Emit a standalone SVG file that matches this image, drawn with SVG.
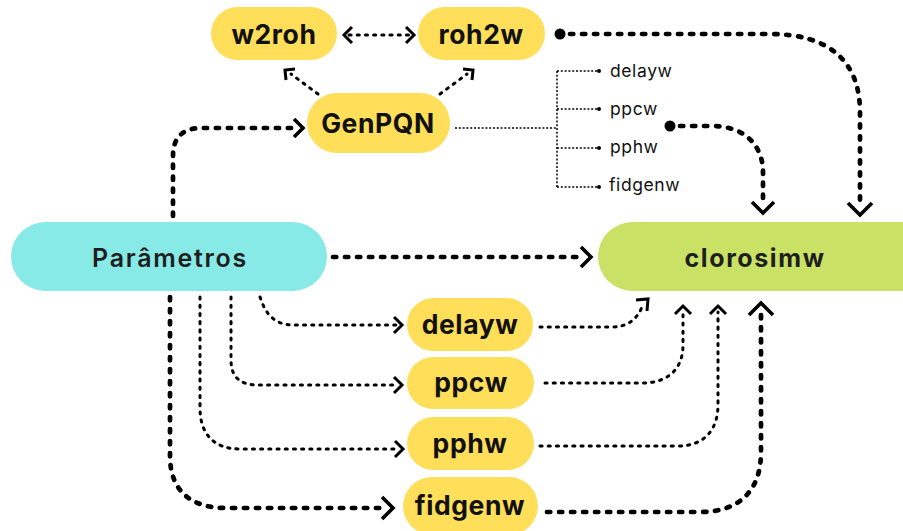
<svg xmlns="http://www.w3.org/2000/svg" width="903" height="531" viewBox="0 0 903 531">
  <style>
    .pill-y { fill: #FFDE59; }
    .pill-c { fill: #88EAE6; }
    .pill-g { fill: #C9E265; }
    .lbl { font-family: Inter, "Noto Sans", sans-serif; font-weight: 700; fill: #111; text-anchor: middle; font-size: 26.5px; letter-spacing: 0.6px; }
    .lbl-main { font-family: Inter, "Noto Sans", sans-serif; font-weight: 600; fill: #1e1e1e; text-anchor: middle; letter-spacing: 1.7px; font-size: 25px; }
    .small { font-family: Inter, "Noto Sans", sans-serif; font-weight: 400; fill: #111; font-size: 17.5px; letter-spacing: 0.6px; }
    .thin { fill: none; stroke: #000; stroke-width: 3; stroke-linecap: round; stroke-dasharray: 2.1 6.1; }
    .thick { fill: none; stroke: #000; stroke-width: 4.7; stroke-linecap: round; stroke-dasharray: 3.3 8.7; }
    .fine { fill: none; stroke: #000; stroke-width: 1.5; stroke-dasharray: 2 1.8; }
    .head { fill: none; stroke: #000; stroke-width: 3; stroke-linejoin: miter; stroke-linecap: butt; }
    .head-b { fill: none; stroke: #000; stroke-width: 3.6; stroke-linejoin: miter; stroke-linecap: butt; }
  </style>

  <rect width="903" height="531" fill="#fff"/>

  <!-- connectors -->
  <g id="connectors">
    <!-- w2roh <-> roh2w -->
    <path class="thin" d="M349,35 H409"/>
    <polyline class="head" points="352,27 344,35 352,43"/>
    <polyline class="head" points="406,27 414,35 406,43"/>

    <!-- GenPQN -> w2roh / roh2w -->
    <path class="thin" d="M318,94 L291,74"/>
    <polyline class="head" points="286,80 285,70 295,69"/>
    <path class="thin" d="M440,94 L467,74"/>
    <polyline class="head" points="463,69 473,70 472,80"/>

    <!-- Parametros -> GenPQN -->
    <path class="thick" d="M173,216 V156 C173,138 182,128 202,128 H297"/>
    <polyline class="head-b" points="294,119 303,128 294,137"/>

    <!-- roh2w -> clorosimw -->
    <circle cx="560" cy="34" r="5.5" fill="#000"/>
    <path class="thick" d="M570,34 H770 C830,34 860,62 860,112 V204"/>
    <polyline class="head-b" points="848,203 860,215 872,203"/>

    <!-- GenPQN output tree -->
    <path class="fine" d="M455,128 H557"/>
    <path class="fine" d="M557,71 V187"/>
    <path class="fine" d="M557,71 H597 M557,109 H597 M557,148 H597 M557,187 H597"/>
    <circle cx="599" cy="71" r="2" fill="#000"/>
    <circle cx="599" cy="109" r="2" fill="#000"/>
    <circle cx="599" cy="148" r="2" fill="#000"/>
    <circle cx="599" cy="187" r="2" fill="#000"/>

    <!-- ppcw dot -> clorosimw -->
    <circle cx="670" cy="126" r="5.5" fill="#000"/>
    <path class="thick" d="M680,126 H712 C745,126 763,146 763,172 V202"/>
    <polyline class="head-b" points="752,202 763,213 774,202"/>

    <!-- Parametros -> clorosimw -->
    <path class="thick" d="M333,257 H583"/>
    <polyline class="head-b" points="581,247 591,257 581,267"/>

    <!-- Parametros -> delayw -->
    <path class="thin" d="M260,297 C266,316 276,325 294,325 H396"/>
    <polyline class="head" points="394,317 402,325 394,333"/>

    <!-- Parametros -> ppcw -->
    <path class="thin" d="M231,297 V360 C231,377 240,385 258,385 H396"/>
    <polyline class="head" points="394,377 402,385 394,393"/>

    <!-- Parametros -> pphw -->
    <path class="thin" d="M200,297 V408 C200,432 212,449 240,449 H396"/>
    <polyline class="head" points="395,441 403,449 395,457"/>

    <!-- Parametros -> fidgenw -->
    <path class="thick" d="M170,297 V456 C170,490 190,508 226,508 H383"/>
    <polyline class="head-b" points="382,497 393,508 382,519"/>

    <!-- delayw -> clorosimw -->
    <path class="thin" d="M540,327 H612 C628,327 637,319 642,307"/>
    <polyline class="head" points="636,300 648,299 647,311"/>

    <!-- ppcw -> clorosimw -->
    <path class="thin" d="M545,383 H642 C667,383 683,370 683,345 V312"/>
    <polyline class="head" points="675,314 683,306 691,314"/>

    <!-- pphw -> clorosimw -->
    <path class="thin" d="M540,446 H678 C704,446 718,430 718,405 V312"/>
    <polyline class="head" points="710,314 718,306 726,314"/>

    <!-- fidgenw -> clorosimw -->
    <path class="thick" d="M547,512 H700 C740,512 761,490 761,452 V313"/>
    <polyline class="head-b" points="749,315 761,303 773,315"/>
  </g>

  <!-- nodes -->
  <g id="w2roh">
    <rect class="pill-y" x="211" y="7" width="126" height="53" rx="26.5"/>
    <text class="lbl" x="274" y="44">w2roh</text>
  </g>
  <g id="roh2w">
    <rect class="pill-y" x="418" y="7" width="127" height="53" rx="26.5"/>
    <text class="lbl" x="481" y="44">roh2w</text>
  </g>
  <g id="GenPQN">
    <rect class="pill-y" x="307" y="93" width="143" height="60" rx="30"/>
    <text class="lbl" x="378" y="133">GenPQN</text>
  </g>
  <g id="Parametros">
    <rect class="pill-c" x="11" y="222" width="316" height="69" rx="34.5"/>
    <text class="lbl-main" x="170" y="267">Parâmetros</text>
  </g>
  <g id="clorosimw">
    <rect class="pill-g" x="598" y="222" width="345" height="69" rx="34.5"/>
    <text class="lbl-main" x="755" y="267" style="font-weight:700;letter-spacing:1.6px">clorosimw</text>
  </g>
  <g id="delayw">
    <rect class="pill-y" x="407" y="298" width="126" height="53" rx="26.5"/>
    <text class="lbl" x="470" y="334">delayw</text>
  </g>
  <g id="ppcw">
    <rect class="pill-y" x="407" y="357" width="127" height="52" rx="26"/>
    <text class="lbl" x="471" y="392">ppcw</text>
  </g>
  <g id="pphw">
    <rect class="pill-y" x="407" y="417" width="127" height="53" rx="26.5"/>
    <text class="lbl" x="470" y="453">pphw</text>
  </g>
  <g id="fidgenw">
    <rect class="pill-y" x="403" y="477" width="135" height="58" rx="29"/>
    <text class="lbl" x="470" y="515">fidgenw</text>
  </g>

  <!-- GenPQN output labels -->
  <g id="outputs">
    <text class="small" x="610" y="77">delayw</text>
    <text class="small" x="610" y="115">ppcw</text>
    <text class="small" x="610" y="153">pphw</text>
    <text class="small" x="609" y="191">fidgenw</text>
  </g>
</svg>
